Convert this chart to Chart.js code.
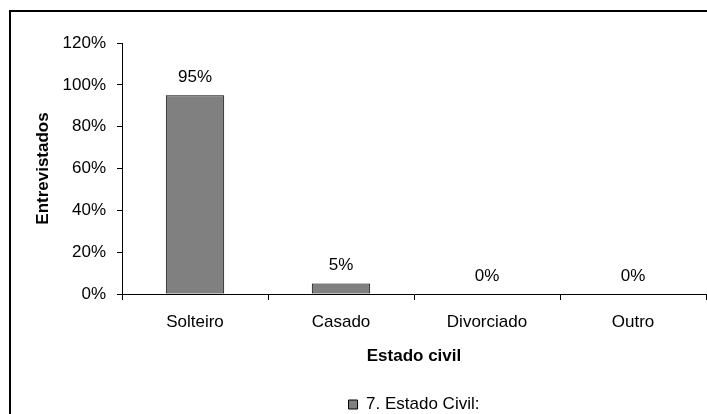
<!DOCTYPE html>
<html>
<head>
<meta charset="utf-8">
<script src="https://cdn.jsdelivr.net/npm/chart.js@4/dist/chart.umd.min.js"></script>
<style>
  html, body { margin: 0; padding: 0; background: #fff; }
  #wrap { position: relative; width: 707px; height: 414px; }
</style>
</head>
<body>
<div id="wrap"><canvas id="chart" width="707" height="414"></canvas></div>
<script>
const categories = ["Solteiro", "Casado", "Divorciado", "Outro"];
const estadoCivil = [95, 5, 0, 0];
const seriesName = "7. Estado Civil:";
const yTicks = [0, 20, 40, 60, 80, 100, 120];

const barColor = "#808080";
const textFont = "'Liberation Sans', Arial, sans-serif";
const fontSize = 17;

// outer frame (only the top and left edges are visible in the picture)
const framePlugin = {
    id: "frame",
    afterLayout(chart) {
        // centre the legend under the plot area, not the whole canvas
        if (chart.legend) {
            chart.legend.left = chart.chartArea.left;
            chart.legend.right = chart.chartArea.right;
        }
    },
    beforeDraw(chart) {
        const ctx = chart.ctx;
        ctx.save();
        ctx.strokeStyle = "#000";
        ctx.lineWidth = 2;
        ctx.beginPath();
        ctx.moveTo(10, 414);
        ctx.lineTo(10, 11);
        ctx.lineTo(707, 11);
        ctx.stroke();
        ctx.restore();
    }
};

// value labels above the bars
const valueLabels = {
    id: "valueLabels",
    afterDatasetsDraw(chart) {
        const ctx = chart.ctx;
        ctx.save();
        ctx.fillStyle = "#000";
        ctx.font = fontSize + "px " + textFont;
        ctx.textAlign = "center";
        ctx.textBaseline = "middle";
        chart.getDatasetMeta(0).data.forEach((bar, i) => {
            ctx.fillText(estadoCivil[i] + "%", bar.x, bar.y - 18);
        });
        ctx.restore();
    }
};

new Chart(document.getElementById("chart"), {
    type: "bar",
    data: {
        labels: categories,
        datasets: [{
            label: seriesName,
            data: estadoCivil,
            backgroundColor: barColor,
            borderColor: "#000",
            borderWidth: 1,
            borderSkipped: false,
            barPercentage: 0.4,
            categoryPercentage: 1
        }]
    },
    options: {
        responsive: false,
        animation: false,
        layout: {
            padding: { left: 0, right: 1, top: 43, bottom: -9 }
        },
        plugins: {
            legend: {
                position: "bottom",
                labels: {
                    color: "#000",
                    font: { family: textFont, size: fontSize },
                    boxWidth: 9,
                    boxHeight: 9,
                    padding: 4
                }
            },
            tooltip: { enabled: false }
        },
        scales: {
            y: {
                min: 0,
                max: 120,
                afterFit: s => { s.width = 122; },
                afterBuildTicks: s => { s.ticks = yTicks.map(v => ({ value: v })); },
                border: { display: true, color: "#000", width: 1 },
                grid: { drawOnChartArea: false, drawTicks: true, tickLength: 5, color: "#000" },
                ticks: {
                    color: "#000",
                    padding: 11,
                    font: { family: textFont, size: fontSize },
                    callback: v => v + "%"
                },
                title: {
                    display: true,
                    text: "Entrevistados",
                    color: "#000",
                    font: { family: textFont, size: fontSize, weight: "bold" },
                    padding: { top: 33, bottom: 0 }
                }
            },
            x: {
                afterFit: s => { s.height = 98; },
                border: { display: true, color: "#000", width: 1 },
                grid: { drawOnChartArea: false, drawTicks: true, tickLength: 6, color: "#000", offset: true },
                ticks: {
                    color: "#000",
                    padding: 12,
                    maxRotation: 0,
                    font: { family: textFont, size: fontSize }
                },
                title: {
                    display: true,
                    text: "Estado civil",
                    color: "#000",
                    font: { family: textFont, size: fontSize, weight: "bold" },
                    padding: { top: 0, bottom: 25 }
                }
            }
        }
    },
    plugins: [framePlugin, valueLabels]
});
</script>
</body>
</html>
